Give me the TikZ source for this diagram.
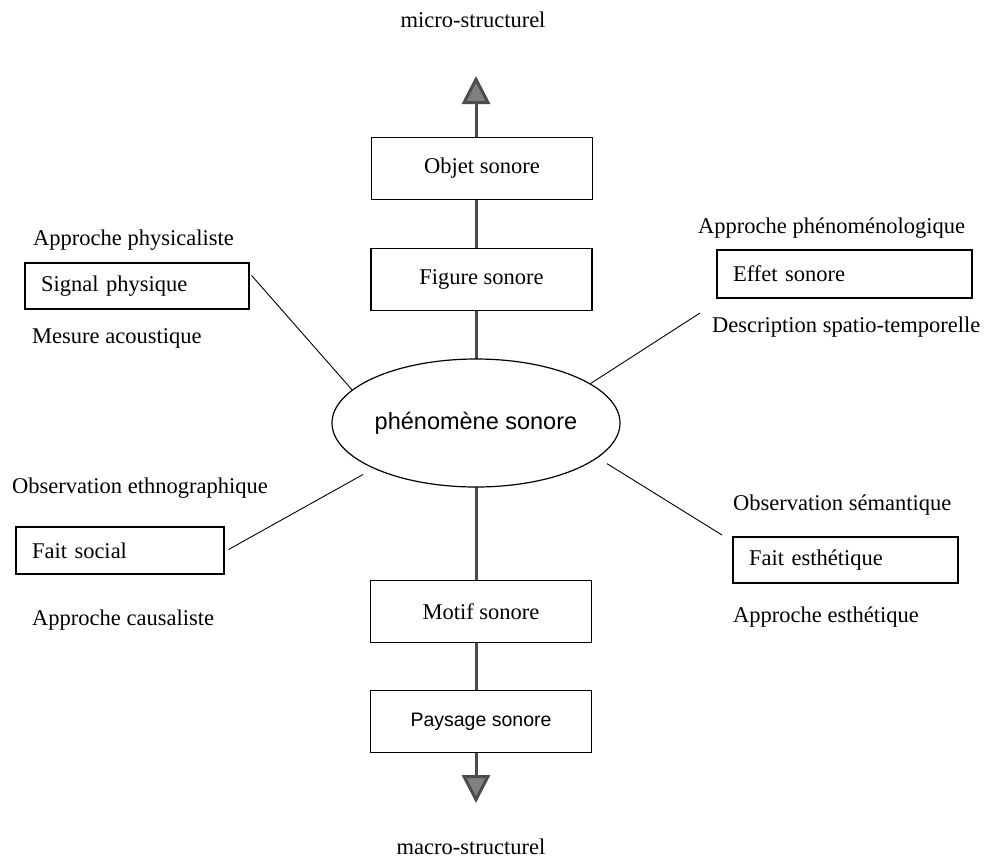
\documentclass[tikz,border=0pt]{standalone}
\usepackage{fontspec}
\setmainfont{Liberation Serif}
\setsansfont{Liberation Sans}
\usetikzlibrary{shapes.geometric,arrows.meta,calc}
\begin{document}
\begin{tikzpicture}[x=1pt,y=1pt,
  txt/.style={font=\fontsize{22.5}{25}\selectfont},
  box/.style={draw, line width=1.1pt, fill=white, inner sep=0pt, txt},
  cbox/.style={box, minimum width=221pt, minimum height=62pt, align=center},
  sidebox/.style={box, align=left, inner xsep=16pt},
  lbl/.style={txt, inner sep=0pt, anchor=west},
  conn/.style={line width=0.9pt},
  axis/.style={line width=3pt, draw=black!70,
    {Triangle[width=28pt,length=28pt,fill=black!50]}-{Triangle[width=28pt,length=28pt,fill=black!50]}}]
\useasboundingbox (0,0) rectangle (992,-865);
\coordinate (top) at (476,-76);
\coordinate (bot) at (476,-803);
\draw[axis] (top) -- (bot);

\node[cbox] (obj) at (482,-168.5) {Objet sonore};
\node[cbox] (fig) at (481.5,-279.5) {Figure sonore};
\node[cbox] (mot) at (481,-611.5) {Motif sonore};
\node[cbox, font=\sffamily\fontsize{19.5}{22}\selectfont] (pay) at (481,-721.5) {Paysage sonore};

\node[draw, ellipse, line width=1.2pt, fill=white, minimum width=288pt, minimum height=128pt, inner sep=0pt,
  font=\sffamily\fontsize{23.5}{26}\selectfont] (ell) at (476,-423) {phénomène sonore};

\node[sidebox, text width=192pt, minimum height=46pt] (sig) at (137,-286) {Signal physique};
\node[sidebox, text width=176pt, minimum height=47pt] (soc) at (120,-550.5) {Fait social};
\node[sidebox, text width=223pt, minimum height=48pt] (eff) at (844.5,-274) {Effet sonore};
\node[sidebox, text width=193pt, minimum height=46pt] (est) at (845.5,-560) {Fait esthétique};

\node[txt, inner sep=0pt] (micro) at (473,-20) {micro-structurel};
\node[txt, inner sep=0pt] (macro) at (471,-847) {macro-structurel};
\node[lbl] (l1) at (33,-240) {Approche physicaliste};
\node[lbl] (l2) at (32,-338) {Mesure acoustique};
\node[lbl] (l3) at (12,-488) {Observation ethnographique};
\node[lbl] (l4) at (32,-620) {Approche causaliste};
\node[lbl] (l5) at (698,-228) {Approche phénoménologique};
\node[lbl] (l6) at (712,-327) {Description spatio-temporelle};
\node[lbl] (l7) at (733,-505) {Observation sémantique};
\node[lbl] (l8) at (733,-617) {Approche esthétique};

\coordinate (effend) at (700,-313);
\coordinate (estend) at (722,-535);
\draw[conn] ($(sig.north east)+(2,-13)$) -- (ell.165);
\draw[conn, shorten >=12pt] ($(soc.east)+(4,1)$) -- (ell.204);
\draw[conn] (ell.19) -- (effend);
\draw[conn, shorten <=11pt] (ell.344) -- (estend);
\end{tikzpicture}
\end{document}
